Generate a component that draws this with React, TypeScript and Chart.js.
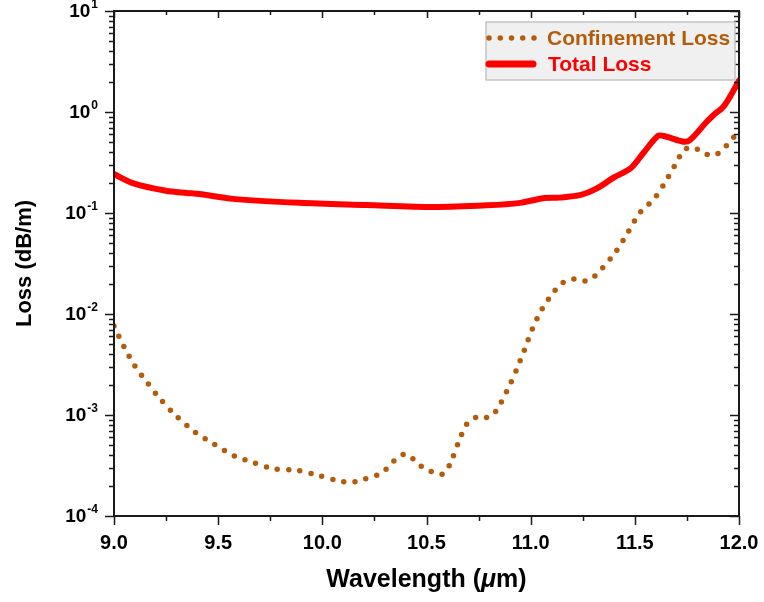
import { useEffect, useRef } from "react";
import { Chart, registerables } from "chart.js";

Chart.register(...registerables);

const FONT = '"Liberation Sans", Arial, Helvetica, sans-serif';
const CONF_COLOR = "#B35D0C";
const TOTAL_COLOR = "#FF0000";
const AXIS_COLOR = "#1A1A1A";

// Total loss (dB/m) versus wavelength (µm)
const totalWavelength = [
  9.0, 9.09, 9.25, 9.35, 9.41, 9.57, 9.89, 10.21, 10.53, 10.79, 10.95, 11.06,
  11.14, 11.24, 11.32, 11.4, 11.48, 11.54, 11.61, 11.64, 11.733, 11.765,
  11.845, 11.877, 11.925, 11.957, 12.0,
];
const totalLoss = [
  0.243, 0.198, 0.166, 0.158, 0.154, 0.138, 0.126, 0.12, 0.1146, 0.119, 0.126,
  0.14, 0.142, 0.151, 0.176, 0.225, 0.277, 0.39, 0.578, 0.578, 0.508, 0.528,
  0.8, 0.93, 1.13, 1.42, 2.05,
];

// Confinement loss (dB/m) versus wavelength (µm)
const confWavelength = [
  9.0, 9.048, 9.099, 9.162, 9.226, 9.299, 9.386, 9.48, 9.578, 9.667, 9.771,
  9.879, 9.983, 10.084, 10.136, 10.184, 10.282, 10.359, 10.402, 10.442, 10.488,
  10.541, 10.581, 10.613, 10.653, 10.696, 10.746, 10.8, 10.837, 10.888, 10.933,
  10.972, 11.01, 11.056, 11.116, 11.154, 11.207, 11.26, 11.301, 11.341, 11.41,
  11.468, 11.522, 11.597, 11.656, 11.708, 11.735, 11.781, 11.829, 11.882,
  11.922, 11.961, 11.993, 12.0,
];
const confLoss = [
  0.0076, 0.00474, 0.00308, 0.00206, 0.00141, 0.000977, 0.000684, 0.000516,
  0.000393, 0.00034, 0.000292, 0.000283, 0.000251, 0.000222, 0.000216,
  0.000226, 0.000265, 0.000375, 0.000411, 0.000358, 0.000296, 0.000269,
  0.000261, 0.000327, 0.000532, 0.000828, 0.000962, 0.000949, 0.00112,
  0.00177, 0.00283, 0.00453, 0.00726, 0.0113, 0.017, 0.0204, 0.0222, 0.0212,
  0.0232, 0.0279, 0.0418, 0.0649, 0.0993, 0.1417, 0.219, 0.34, 0.421, 0.447,
  0.39, 0.372, 0.428, 0.516, 0.634, 0.65,
];

const xTickValues = [9.0, 9.5, 10.0, 10.5, 11.0, 11.5, 12.0];
const xMinorStep = 0.25;
const yDecades = [-4, -3, -2, -1, 0, 1];

const seriesLabels = ["Confinement Loss", "Total Loss"];
const xTitle = ["Wavelength (", "\u03BC", "m)"];
const yTitle = "Loss (dB/m)";

const toPoints = (xs: number[], ys: number[]) =>
  xs.map((x, i) => ({ x, y: ys[i] }));

const axesPlugin = {
  id: "axesFrame",
  afterDraw(chart: any) {
    const { ctx, chartArea: a } = chart;
    const xs = chart.scales.x;
    const ys = chart.scales.y;
    ctx.save();

    // frame
    ctx.strokeStyle = AXIS_COLOR;
    ctx.lineWidth = 2;
    ctx.strokeRect(a.left, a.top, a.right - a.left, a.bottom - a.top);

    // x ticks: outward at bottom, inward at top
    ctx.lineWidth = 1.5;
    ctx.beginPath();
    for (let v = xs.min; v <= xs.max + 1e-9; v += xMinorStep) {
      const px = Math.round(xs.getPixelForValue(v)) + 0.5;
      const major = Math.abs(v * 2 - Math.round(v * 2)) < 1e-6;
      ctx.moveTo(px, a.bottom);
      ctx.lineTo(px, a.bottom + (major ? 9 : 5));
      ctx.moveTo(px, a.top);
      ctx.lineTo(px, a.top + (major ? 7 : 4));
    }
    // y ticks: outward at left, inward at right
    yDecades.forEach((d) => {
      const py = Math.round(ys.getPixelForValue(Math.pow(10, d))) + 0.5;
      ctx.moveTo(a.left - 9, py);
      ctx.lineTo(a.left, py);
      ctx.moveTo(a.right, py);
      ctx.lineTo(a.right - 9, py);
      if (d < yDecades[yDecades.length - 1]) {
        for (let k = 2; k <= 9; k++) {
          const pm = Math.round(ys.getPixelForValue(k * Math.pow(10, d))) + 0.5;
          ctx.moveTo(a.left - 5, pm);
          ctx.lineTo(a.left, pm);
          ctx.moveTo(a.right, pm);
          ctx.lineTo(a.right - 5, pm);
        }
      }
    });
    ctx.stroke();

    // x tick labels
    ctx.fillStyle = "#000";
    ctx.font = `bold 20px ${FONT}`;
    ctx.textAlign = "center";
    ctx.textBaseline = "alphabetic";
    xTickValues.forEach((v) => {
      ctx.fillText(v.toFixed(1), xs.getPixelForValue(v), 549);
    });

    // y tick labels: 10 with superscript exponent
    const rightEdge = a.left - 16;
    yDecades.forEach((d) => {
      const py = ys.getPixelForValue(Math.pow(10, d));
      const exp = String(d).replace("-", "-");
      ctx.font = `bold 12px ${FONT}`;
      const we = ctx.measureText(exp).width;
      ctx.font = `bold 19px ${FONT}`;
      const wb = ctx.measureText("10").width;
      const x0 = rightEdge - we - 1 - wb;
      ctx.textAlign = "left";
      ctx.fillText("10", x0, py + 6);
      ctx.font = `bold 12px ${FONT}`;
      ctx.fillText(exp, x0 + wb + 1, py - 3);
    });

    // y title
    ctx.save();
    ctx.translate(25, (a.top + a.bottom) / 2);
    ctx.rotate(-Math.PI / 2);
    ctx.font = `bold 22px ${FONT}`;
    ctx.textAlign = "center";
    ctx.textBaseline = "middle";
    ctx.fillText(yTitle, 0, 0);
    ctx.restore();

    // x title with italic mu
    const fonts = [
      `bold 25px ${FONT}`,
      `italic bold 25px ${FONT}`,
      `bold 25px ${FONT}`,
    ];
    const widths = xTitle.map((t, i) => {
      ctx.font = fonts[i];
      return ctx.measureText(t).width;
    });
    const total = widths.reduce((s, w) => s + w, 0);
    let tx = (a.left + a.right) / 2 - total / 2;
    ctx.textAlign = "left";
    xTitle.forEach((t, i) => {
      ctx.font = fonts[i];
      ctx.fillText(t, tx, 587);
      tx += widths[i];
    });

    // legend
    const lx = 486, ly = 22, lw = 249, lh = 58;
    ctx.fillStyle = "#F0F0F0";
    ctx.fillRect(lx, ly, lw, lh);
    ctx.strokeStyle = "#C4C4C4";
    ctx.lineWidth = 1.5;
    ctx.strokeRect(lx, ly, lw, lh);

    const ds = chart.data.datasets;
    // dotted sample
    ctx.strokeStyle = ds[0].borderColor;
    ctx.lineWidth = 5.5;
    ctx.lineCap = "round";
    ctx.setLineDash([0, 11.25]);
    ctx.beginPath();
    ctx.moveTo(489, 38);
    ctx.lineTo(535, 38);
    ctx.stroke();
    ctx.setLineDash([]);
    // solid sample
    ctx.strokeStyle = ds[1].borderColor;
    ctx.lineWidth = 7;
    ctx.beginPath();
    ctx.moveTo(489, 64);
    ctx.lineTo(533, 64);
    ctx.stroke();

    ctx.font = `bold 21px ${FONT}`;
    ctx.textAlign = "left";
    ctx.textBaseline = "middle";
    ctx.fillStyle = ds[0].borderColor;
    ctx.fillText(ds[0].label, 547, 39);
    ctx.fillStyle = ds[1].borderColor;
    ctx.fillText(ds[1].label, 548, 65);

    ctx.restore();
  },
};

export default function App() {
  const canvasRef = useRef<HTMLCanvasElement>(null);

  useEffect(() => {
    if (!canvasRef.current) return;
    const chart = new Chart(canvasRef.current, {
      type: "line",
      data: {
        datasets: [
          {
            label: seriesLabels[0],
            data: toPoints(confWavelength, confLoss),
            borderColor: CONF_COLOR,
            borderWidth: 5.5,
            borderDash: [0, 11.3],
            borderCapStyle: "round",
            pointRadius: 0,
            tension: 0.3,
            fill: false,
            order: 1,
          },
          {
            label: seriesLabels[1],
            data: toPoints(totalWavelength, totalLoss),
            borderColor: TOTAL_COLOR,
            borderWidth: 6,
            borderCapStyle: "round",
            borderJoinStyle: "round",
            pointRadius: 0,
            tension: 0.3,
            fill: false,
            order: 0,
          },
        ],
      },
      options: {
        responsive: false,
        animation: false,
        devicePixelRatio: 1,
        layout: { padding: { top: 11, right: 25, left: 0, bottom: 0 } },
        plugins: {
          legend: { display: false },
          tooltip: { enabled: false },
        },
        scales: {
          x: {
            type: "linear",
            min: 9,
            max: 12,
            ticks: { display: false },
            grid: { display: false },
            border: { display: false },
            afterFit: (s: any) => {
              s.height = 86;
            },
          },
          y: {
            type: "logarithmic",
            min: 1e-4,
            max: 10,
            ticks: { display: false },
            grid: { display: false },
            border: { display: false },
            afterFit: (s: any) => {
              s.width = 114;
            },
          },
        },
      },
      plugins: [axesPlugin],
    } as any);
    return () => chart.destroy();
  }, []);

  return (
    <div
      style={{
        position: "fixed",
        left: 0,
        top: 0,
        width: 764,
        height: 602,
        background: "#fff",
      }}
    >
      <canvas
        ref={canvasRef}
        width={764}
        height={602}
        style={{ display: "block", width: 764, height: 602 }}
      />
    </div>
  );
}
